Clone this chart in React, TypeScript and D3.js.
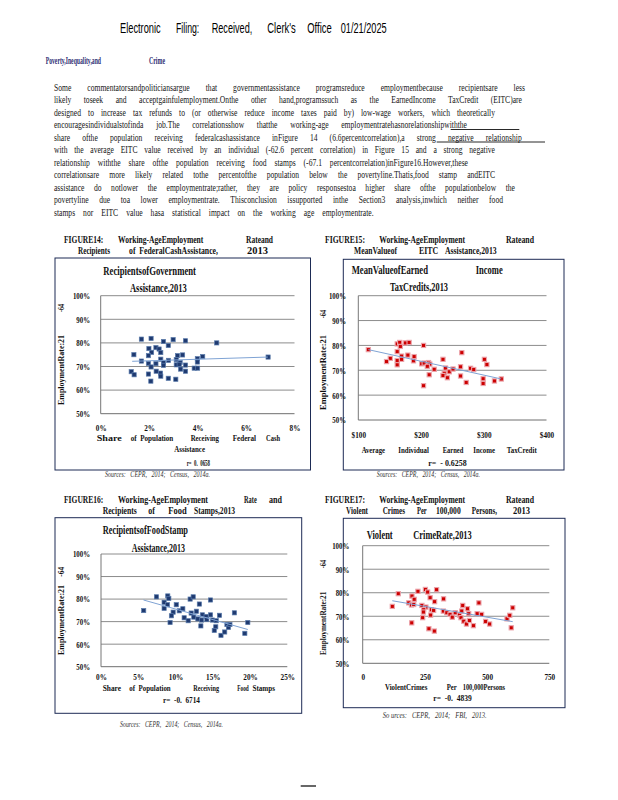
import { useEffect, useRef } from "react";
import * as d3 from "d3";

const SERIF = "'Liberation Serif', 'Times New Roman', serif";
const SANS = "'Liberation Sans', Arial, sans-serif";

const bodyLines = [
  "Some commentatorsandpoliticiansargue that governmentassistance programsreduce employmentbecause recipientsare less",
  "likely toseek and acceptgainfulemployment.Onthe other hand,programssuch as the EarnedIncome TaxCredit (EITC)are",
  "designed to increase tax refunds to (or otherwise reduce income taxes paid by) low-wage workers, which theoretically",
  "encouragesindividualstofinda job.The correlationsshow thatthe working-age employmentratehasnorelationshipwiththe",
  "share ofthe population receiving federalcashassistance inFigure 14 (6.6percentcorrelation),a strong negative relationship",
  "with the average EITC value received by an individual (-62.6 percent correlation) in Figure 15 and a strong negative",
  "relationship withthe share ofthe population receiving food stamps (-67.1 percentcorrelation)inFigure16.However,these",
  "correlationsare more likely related tothe percentofthe population below the povertyline.Thatis,food stamp andEITC",
  "assistance do notlower the employmentrate;rather, they are policy responsestoa higher share ofthe populationbelow the",
  "povertyline due toa lower employmentrate. Thisconclusion issupported inthe Section3 analysis,inwhich neither food",
  "stamps nor EITC value hasa statistical impact on the working age employmentrate.",
];

const yTicks = [50, 60, 70, 80, 90, 100];

// Figure 14: share receiving federal cash assistance (%) vs employment rate 21-64 (%)
const fig14Points: [number, number][] = [
  [1.68, 81.6], [2.08, 81.9], [2.59, 80.6], [2.99, 81.4], [3.5, 80.9], [4.79, 80.0],
  [2.79, 78.9], [1.99, 77.6], [2.28, 78.0], [2.41, 77.4], [2.1, 76.0], [2.48, 75.9],
  [1.97, 74.6], [1.37, 75.0], [3.17, 74.6], [3.38, 74.9], [4.21, 74.2], [3.99, 73.3],
  [6.91, 74.0], [1.68, 72.3], [2.48, 73.1], [2.59, 71.7], [2.8, 72.6], [3.12, 72.9],
  [3.28, 71.7], [1.97, 71.3], [2.28, 71.2], [2.59, 70.5], [3.12, 70.7], [3.24, 70.9],
  [3.5, 70.6], [3.99, 71.9], [3.86, 69.3], [4.0, 69.3], [2.08, 69.8], [3.3, 68.9],
  [3.5, 68.0], [1.26, 67.8], [1.38, 66.5], [1.97, 66.8], [2.29, 68.0], [2.47, 67.2],
  [2.48, 65.9], [2.79, 65.0], [3.1, 64.6], [2.07, 63.8],
];
const fig14Trend: [number, number][] = [[1.3, 72.2], [6.9, 74.0]];
const fig14XTicks = [0, 2, 4, 6, 8];

// Figure 15: mean EITC value ($) vs employment rate (%)
const fig15Points: [number, number][] = [
  [116, 78.3], [162, 80.6], [166, 81.2], [167, 79.6], [175, 81.0], [181, 81.2], [204, 80.0],
  [162, 77.5], [179, 76.1], [189, 75.5], [169, 75.7], [151, 74.8], [145, 73.5], [162, 73.9],
  [169, 74.4], [162, 72.2], [188, 73.8], [201, 72.6], [205, 72.9], [212, 73.1], [214, 72.5],
  [210, 71.6], [221, 70.4], [235, 74.4], [265, 77.1], [239, 70.9], [245, 69.4], [237, 68.8],
  [235, 67.9], [242, 67.0], [213, 68.2], [251, 70.5], [263, 71.4], [263, 67.7], [204, 63.8],
  [272, 65.1], [279, 70.8], [284, 70.3], [301, 74.4], [305, 72.3], [299, 66.6], [299, 64.7],
  [317, 65.7], [328, 66.5],
];
const fig15Trend: [number, number][] = [[116, 78.3], [328, 66.5]];
const fig15XTicks = [100, 200, 300, 400];

// Figure 16: share receiving food stamps (%) vs employment rate (%)
const fig16Points: [number, number][] = [
  [5.73, 74.9], [7.44, 81.0], [8.96, 81.4], [9.1, 80.3], [8.47, 78.6], [8.92, 77.5],
  [8.47, 75.9], [10.1, 77.5], [9.68, 74.2], [9.45, 72.6], [9.27, 69.6], [10.5, 74.8],
  [10.98, 75.7], [11.96, 80.0], [12.37, 81.0], [13.2, 77.8], [14.7, 79.6], [12.8, 74.6],
  [12.1, 73.8], [11.16, 71.7], [11.7, 70.4], [12.45, 72.0], [13.0, 71.2], [13.6, 73.0],
  [14.1, 72.3], [14.7, 73.0], [13.5, 70.7], [14.2, 70.9], [14.96, 70.7], [15.46, 70.4],
  [15.9, 72.8], [13.4, 68.1], [15.4, 67.7], [15.2, 66.1], [16.1, 63.9], [16.6, 65.4],
  [16.9, 68.7], [17.1, 67.4], [17.3, 68.7], [17.9, 73.9], [19.7, 69.6], [19.3, 64.8],
];
const fig16Trend: [number, number][] = [[5.7, 79.6], [19.7, 66.5]];
const fig16XTicks = [0, 5, 10, 15, 20, 25];

// Figure 17: violent crimes per 100,000 vs employment rate (%)
const fig17Points: [number, number][] = [
  [119, 74.2], [143, 79.6], [198, 78.6], [207, 77.2], [185, 75.7], [196, 74.8], [205, 75.0],
  [222, 80.6], [252, 81.4], [261, 80.3], [297, 81.3], [271, 77.9], [289, 76.2], [325, 77.4],
  [238, 74.6], [254, 73.9], [245, 72.8], [244, 71.8], [276, 72.8], [285, 72.5], [273, 70.5],
  [241, 69.4], [197, 67.2], [266, 64.7], [288, 63.7], [324, 72.2], [338, 71.5], [351, 70.8],
  [360, 69.6], [372, 71.5], [389, 70.5], [402, 74.6], [398, 72.2], [421, 73.2], [426, 71.1],
  [395, 69.4], [406, 67.9], [417, 66.7], [429, 68.2], [445, 66.0], [460, 71.1], [467, 75.7],
  [478, 70.8], [494, 67.8], [510, 66.7], [580, 68.9], [591, 70.4], [603, 73.6], [597, 65.1],
];
const fig17Trend: [number, number][] = [[119, 76.6], [603, 67.7]];
const fig17XTicks = [0, 250, 500, 750];

type Seg = [string, number, number];
type Line = { y: number; segs: Seg[] };

type Panel = {
  box: [number, number, number, number];
  plot: { left: number; right: number; top: number; bottom: number };
  xDomain: [number, number];
  xTicks: number[];
  xFmt: (d: number) => string;
  xLabelY: number;
  yLabelX: number;
  points: [number, number][];
  trend: [number, number][];
  red: boolean;
  caption: Line[];
  title: Line[];
  xTitle: Line[];
  source: Line;
  yLabel: { x: number; main: [number, number]; tail: [number, number] };
};

const panels: Panel[] = [
  {
    box: [55, 258, 310.5, 470],
    plot: { left: 100.7, right: 294.5, top: 295.7, bottom: 413.7 },
    xDomain: [0, 8],
    xTicks: fig14XTicks,
    xFmt: (d) => `${d}%`,
    xLabelY: 430.5,
    yLabelX: 90,
    points: fig14Points,
    trend: fig14Trend,
    red: false,
    caption: [
      { y: 242.5, segs: [["FIGURE14:", 64, 103.3], ["Working-AgeEmployment", 118, 203.3], ["Rateand", 246, 273]] },
      { y: 254.3, segs: [["Recipients", 78, 110], ["of  FederalCashAssistance,", 129, 218], ["2013", 247, 268]] },
    ],
    title: [
      { y: 275, segs: [["RecipientsofGovernment", 103.3, 196]] },
      { y: 291.7, segs: [["Assistance,2013", 130, 186.7]] },
    ],
    xTitle: [
      { y: 441, segs: [["Share", 96.7, 121.7], ["of  Population", 130.7, 173.3], ["Receiving", 190.7, 219], ["Federal", 232.7, 256], ["Cash", 266, 280]] },
      { y: 451.5, segs: [["Assistance", 174.3, 205]] },
      { y: 465.5, segs: [["r=  0.  0658", 186.7, 210]] },
    ],
    source: { y: 476.5, segs: [["Sources:   CEPR,   2014;   Census,   2014a.", 105, 210]] },
    yLabel: { x: 60.7, main: [335, 405], tail: [304, 312] },
  },
  {
    box: [343.3, 259.3, 564, 470],
    plot: { left: 358.3, right: 546.5, top: 295.7, bottom: 420 },
    xDomain: [100, 400],
    xTicks: fig15XTicks,
    xFmt: (d) => `$${d}`,
    xLabelY: 437.5,
    yLabelX: 346,
    points: fig15Points,
    trend: fig15Trend,
    red: true,
    caption: [
      { y: 242.5, segs: [["FIGURE15:", 325, 365], ["Working-AgeEmployment", 379.3, 465], ["Rateand", 506, 534]] },
      { y: 254.3, segs: [["MeanValueof", 354, 397], ["EITC", 419, 438.3], ["Assistance,2013", 445, 496.7]] },
    ],
    title: [
      { y: 274, segs: [["MeanValueofEarned", 351.7, 428], ["Income", 475.7, 502.7]] },
      { y: 291, segs: [["TaxCredits,2013", 390, 448]] },
    ],
    xTitle: [
      { y: 453, segs: [["Average", 361.7, 385], ["Individual", 398.3, 429], ["Earned", 442.7, 463.3], ["Income", 473.3, 495], ["TaxCredit", 506.7, 536.7]] },
      { y: 466, segs: [["r=  - 0.6258", 428.3, 466.7]] },
    ],
    source: { y: 476.5, segs: [["Sources:   CEPR,   2014;   Census,   2014a.", 376.7, 480]] },
    yLabel: { x: 322.7, main: [335, 410], tail: [310, 318.3] },
  },
  {
    box: [55, 517.7, 301.7, 713.3],
    plot: { left: 101, right: 287.3, top: 554, bottom: 666.7 },
    xDomain: [0, 25],
    xTicks: fig16XTicks,
    xFmt: (d) => `${d}%`,
    xLabelY: 680.3,
    yLabelX: 90,
    points: fig16Points,
    trend: fig16Trend,
    red: false,
    caption: [
      { y: 502.5, segs: [["FIGURE16:", 64, 103.3], ["Working-AgeEmployment", 118, 208], ["Rate", 244, 256.7], ["and", 269, 282]] },
      { y: 514.3, segs: [["Recipients", 102.7, 136.7], ["of", 148.3, 155], ["Food", 168.3, 186.7], ["Stamps,2013", 194, 235]] },
    ],
    title: [
      { y: 533.5, segs: [["RecipientsofFoodStamp", 102.7, 188]] },
      { y: 551.7, segs: [["Assistance,2013", 131.7, 185]] },
    ],
    xTitle: [
      { y: 690.5, segs: [["Share", 102.7, 121], ["of  Population", 129.3, 170.7], ["Receiving", 193.3, 219], ["Food", 237.3, 248.7], ["Stamps", 252.5, 275]] },
      { y: 702.5, segs: [["r=  -0.  6714", 163, 200]] },
    ],
    source: { y: 726.5, segs: [["Sources:   CEPR,   2014;   Census,   2014a.", 120, 223]] },
    yLabel: { x: 60.7, main: [585, 655], tail: [566.7, 576.7] },
  },
  {
    box: [343.3, 518.3, 565, 707.7],
    plot: { left: 362.7, right: 549.3, top: 545.7, bottom: 663.3 },
    xDomain: [0, 750],
    xTicks: fig17XTicks,
    xFmt: (d) => `${d}`,
    xLabelY: 679.5,
    yLabelX: 349.3,
    points: fig17Points,
    trend: fig17Trend,
    red: true,
    caption: [
      { y: 502.5, segs: [["FIGURE17:", 325, 365], ["Working-AgeEmployment", 379.3, 465], ["Rateand", 506, 534]] },
      { y: 514.3, segs: [["Violent", 346, 368], ["Crimes", 382.7, 405], ["Per", 417, 426.7], ["100,000", 436, 460.7], ["Persons,", 471.7, 497], ["2013", 513, 530]] },
    ],
    title: [{ y: 538.5, segs: [["Violent", 366.7, 392.7], ["CrimeRate,2013", 413.3, 471.7]] }],
    xTitle: [
      { y: 690, segs: [["ViolentCrimes", 385, 427.3], ["Per", 446.7, 456.7], ["100,000Persons", 462.7, 505]] },
      { y: 701.3, segs: [["r=  -0.  4839", 433.3, 471.7]] },
    ],
    source: { y: 717.5, segs: [["So urces:   CEPR,   2014;   FBI,   2013.", 382.7, 486.7]] },
    yLabel: { x: 322.7, main: [591.7, 655], tail: [560, 568.3] },
  },
];

type G = d3.Selection<SVGGElement, unknown, null, undefined>;
type TextOpts = { size?: number; weight?: string; fill?: string; family?: string; style?: string };

function seg(g: G, text: string, x0: number, x1: number, y: number, o: TextOpts = {}) {
  return g
    .append("text")
    .attr("x", x0)
    .attr("y", y)
    .attr("font-family", o.family ?? SERIF)
    .attr("font-size", o.size ?? 9)
    .attr("font-weight", o.weight ?? "normal")
    .attr("font-style", o.style ?? "normal")
    .attr("fill", o.fill ?? "#111")
    .attr("textLength", x1 - x0)
    .attr("lengthAdjust", "spacingAndGlyphs")
    .style("white-space", "pre")
    .text(text);
}

function lines(g: G, ls: Line[], o: TextOpts) {
  ls.forEach((l) => l.segs.forEach(([t, a, b]) => seg(g, t, a, b, l.y, o)));
}

function condense(sel: d3.Selection<any, any, any, any>, f: number) {
  sel.each(function (this: SVGTextElement) {
    const w = this.getComputedTextLength();
    d3.select(this).attr("textLength", w * f).attr("lengthAdjust", "spacingAndGlyphs");
  });
}

// spread the words of one paragraph line between x0 and x1
function justify(g: G, line: string, x0: number, x1: number, y: number, last: boolean) {
  const words = line.split(" ");
  const nodes = words.map((w) =>
    g
      .append("text")
      .attr("y", y)
      .attr("font-family", SERIF)
      .attr("font-size", 10)
      .attr("fill", "#151515")
      .text(w)
  );
  const widths = nodes.map((n) => (n.node() as SVGTextElement).getComputedTextLength());
  const total = d3.sum(widths);
  const minGap = 3;
  let f = 0.76;
  if (total * f + minGap * (words.length - 1) > x1 - x0) f = (x1 - x0 - minGap * (words.length - 1)) / total;
  const gap = last ? 8 : (x1 - x0 - total * f) / (words.length - 1);
  let x = x0;
  nodes.forEach((n, i) => {
    n.attr("x", x).attr("textLength", widths[i] * f).attr("lengthAdjust", "spacingAndGlyphs");
    x += widths[i] * f + gap;
  });
}

function drawPanel(root: G, p: Panel) {
  const g = root.append("g");
  const [bx0, by0, bx1, by1] = p.box;
  g.append("rect")
    .attr("x", bx0)
    .attr("y", by0)
    .attr("width", bx1 - bx0)
    .attr("height", by1 - by0)
    .attr("fill", "#fff")
    .attr("stroke", "#1d2b55")
    .attr("stroke-width", 1);

  const x = d3.scaleLinear().domain(p.xDomain).range([p.plot.left, p.plot.right]);
  const y = d3.scaleLinear().domain([50, 100]).range([p.plot.bottom, p.plot.top]);

  // gridlines
  g.selectAll(".grid")
    .data(yTicks)
    .join("line")
    .attr("x1", p.plot.left)
    .attr("x2", p.plot.right)
    .attr("y1", (d) => y(d))
    .attr("y2", (d) => y(d))
    .attr("stroke", (d) => (d === 50 ? "#6e6e6e" : "#8c8c8c"))
    .attr("stroke-width", 1);
  g.append("line")
    .attr("x1", p.plot.left)
    .attr("x2", p.plot.left)
    .attr("y1", p.plot.top)
    .attr("y2", p.plot.bottom)
    .attr("stroke", "#777")
    .attr("stroke-width", 1);

  // axes
  const gy = g
    .append("g")
    .attr("transform", `translate(${p.yLabelX},0)`)
    .call(d3.axisLeft(y).tickValues(yTicks).tickSize(0).tickPadding(0).tickFormat((d) => `${d}%`));
  const gx = g
    .append("g")
    .attr("transform", `translate(0,${p.xLabelY})`)
    .call(d3.axisBottom(x).tickValues(p.xTicks).tickSize(0).tickPadding(0).tickFormat((d) => p.xFmt(+d)));
  [gx, gy].forEach((a) => {
    a.select(".domain").remove();
    a.attr("font-family", SERIF).attr("font-size", 9).attr("font-weight", "bold").attr("color", "#111");
  });
  gx.selectAll("text").attr("dy", null).attr("y", 0);
  condense(gx.selectAll("text"), 0.8);
  condense(gy.selectAll("text"), 0.76);

  // points
  const s = 4.2;
  g.selectAll(".pt")
    .data(p.points)
    .join("rect")
    .attr("x", (d) => x(d[0]) - s / 2)
    .attr("y", (d) => y(d[1]) - s / 2)
    .attr("width", s)
    .attr("height", s)
    .attr("fill", p.red ? "#cc0000" : "#1f3a70")
    .attr("stroke", p.red ? "#eba3aa" : "#5a7bab")
    .attr("stroke-width", p.red ? 1.1 : 0.7);

  // trend line
  g.append("path")
    .datum(p.trend)
    .attr("d", d3.line<[number, number]>().x((d) => x(d[0])).y((d) => y(d[1])))
    .attr("fill", "none")
    .attr("stroke", "#7fa3d4")
    .attr("stroke-width", 1);

  // texts
  lines(g, p.caption, { size: 10.5, weight: "bold" });
  lines(g, p.title, { size: 13, weight: "bold" });
  lines(g, p.xTitle, { size: 9, weight: "bold" });
  lines(g, [p.source], { size: 7.5, style: "italic", fill: "#333" });

  const rot = (t: string, a: number, b: number) =>
    g
      .append("text")
      .attr("transform", `translate(${p.yLabel.x + 3.5},${b}) rotate(-90)`)
      .attr("font-family", SERIF)
      .attr("font-size", 9)
      .attr("font-weight", "bold")
      .attr("fill", "#111")
      .attr("textLength", b - a)
      .attr("lengthAdjust", "spacingAndGlyphs")
      .text(t);
  rot("EmploymentRate:21", p.yLabel.main[0], p.yLabel.main[1]);
  rot("-64", p.yLabel.tail[0], p.yLabel.tail[1]);
}

export default function App() {
  const ref = useRef<SVGSVGElement>(null);

  useEffect(() => {
    if (!ref.current) return;
    const svg = d3.select(ref.current);
    svg.selectAll("*").remove();
    const root = svg.append("g") as unknown as G;

    // page header
    const header: Seg[] = [
      ["Electronic", 120, 160.7],
      ["Filing:", 176, 199.3],
      ["Received,", 211.7, 252.3],
      ["Clerk's", 267.3, 295.7],
      ["Office", 307.3, 331.7],
      ["01/21/2025", 340.7, 386.7],
    ];
    header.forEach(([t, a, b]) => seg(root, t, a, b, 33.3, { family: SANS, size: 14, fill: "#000" }));

    seg(root, "Poverty,Inequality,and", 45.7, 101, 63.8, { size: 11, weight: "bold", fill: "#2e2e72" });
    seg(root, "Crime", 149, 165, 63.8, { size: 11, weight: "bold", fill: "#2e2e72" });

    const ends = [525, 522, 495, 467, 521.7, 495, 468, 495, 515, 503, 353];
    bodyLines.forEach((l, i) => justify(root, l, 54, ends[i], 90.5 + i * 12.5, i === bodyLines.length - 1));

    // underlines in the paragraph
    root.append("line").attr("x1", 450.7).attr("x2", 519.3).attr("y1", 129.5).attr("y2", 129.5).attr("stroke", "#111").attr("stroke-width", 0.9);
    root.append("line").attr("x1", 436.7).attr("x2", 545).attr("y1", 142).attr("y2", 142).attr("stroke", "#111").attr("stroke-width", 0.9);

    panels.forEach((p) => drawPanel(root, p));

    root.append("line").attr("x1", 300.7).attr("x2", 316).attr("y1", 786).attr("y2", 786).attr("stroke", "#000").attr("stroke-width", 1.2);
  }, []);

  return (
    <svg
      ref={ref}
      width={618}
      height={800}
      style={{ position: "absolute", left: 0, top: 0, background: "#fff" }}
    />
  );
}
